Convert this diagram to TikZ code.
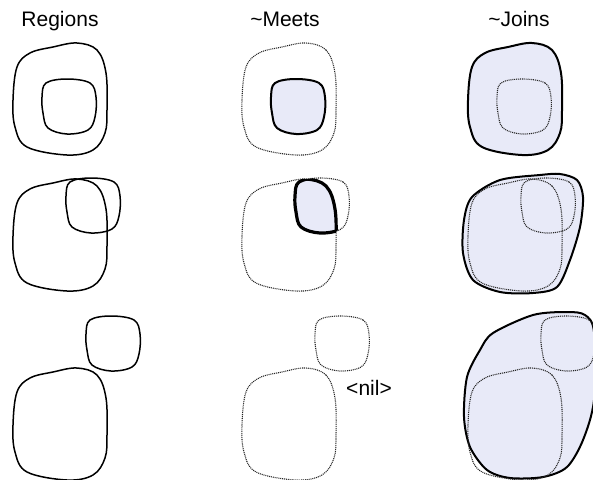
\documentclass[tikz,border=0pt]{standalone}
\usepackage{fontspec}
\setmainfont{Liberation Sans}
\usetikzlibrary{positioning}
\definecolor{joinfill}{RGB}{232,234,248}
\tikzset{
  region/.style={line width=1.5pt},
  ghost/.style={line width=1.1pt,dash pattern=on 1pt off 0.9pt,black!85},
  result/.style={line width=2pt,fill=joinfill},
  title/.style={font=\fontsize{21}{25}\selectfont,anchor=base}
}
% blob outlines, origin at top left
\def\bigpath{plot[smooth cycle,tension=0.6] coordinates {(64,0)(84,7)(93,30)(94,67)(92,90)(80,107)(54,112)(14,104)(2,84)(0,57)(4,24)(17,10)(40,4)}}
\def\smallpath{plot[smooth cycle,tension=0.6] coordinates {(26,0)(49,4)(55,18)(54,38)(47,51)(26,55)(7,49)(2,34)(1,18)(5,4)}}

\begin{document}
\begin{tikzpicture}[x=1pt,y=-1pt]
\useasboundingbox (0,0) rectangle (593,479);
\node[title] (regions) at (60,26) {Regions};
\node[title] (meets) at (285,26) {\textasciitilde Meets};
\node[title] (joins) at (519,26) {\textasciitilde Joins};

% row 1: nested
\draw[region,shift={(13,43)}] \bigpath;
\draw[region,shift={(41,79)}] \smallpath;
\draw[ghost,shift={(242,43)}] \bigpath;
\draw[result,shift={(270,79)}] \smallpath;
\draw[result,shift={(468,43)}] \bigpath;
\draw[ghost,shift={(496,79)}] \smallpath;

% row 2: overlapping
\draw[region,shift={(13,179)}] \bigpath;
\draw[region,shift={(65,178)}] \smallpath;
% meet
\begin{scope}
  \clip[shift={(242,179)}] \bigpath;
  \fill[joinfill,shift={(294,178)}] \smallpath;
\end{scope}
\draw[ghost,shift={(242,179)}] \bigpath;
\draw[ghost,shift={(294,178)}] \smallpath;
\begin{scope}
  \clip[shift={(242,179)}] \bigpath;
  \draw[line width=3.2pt,shift={(294,178)}] \smallpath;
\end{scope}
\begin{scope}
  \clip[shift={(294,178)}] \smallpath;
  \draw[line width=3.2pt,shift={(242,179)}] \bigpath;
\end{scope}
% join
\draw[result] plot[smooth cycle] coordinates {(472,197)(500,180)(540,175)(560,174)(577,180)(583,197)(580,227)(570,260)(557,287)(533,293)(500,292)(473,280)(463,253)(464,220)};
\draw[ghost,shift={(468,179)}] \bigpath;
\draw[ghost,shift={(520,178)}] \smallpath;

% row 3: apart
\draw[region,shift={(13,368)}] \bigpath;
\draw[region,shift={(85,316)}] \smallpath;
\draw[ghost,shift={(242,368)}] \bigpath;
\draw[ghost,shift={(314,316)}] \smallpath;
\node[title] (nil) at (369,395) {<nil>};
% join
\draw[result] plot[smooth cycle] coordinates {(493,333)(533,315)(567,312)(585,315)(594,332)(594,400)(583,440)(567,467)(543,477)(510,478)(487,470)(470,447)(464,417)(467,377)(480,350)};
\draw[ghost,shift={(468,368)}] \bigpath;
\draw[ghost,shift={(540,316)}] \smallpath;
\end{tikzpicture}
\end{document}
